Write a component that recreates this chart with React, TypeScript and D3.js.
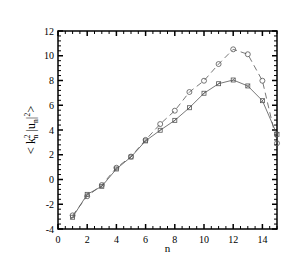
import React from 'react';
import * as d3 from 'd3';

// shell index n
const shells = [1, 2, 3, 4, 5, 6, 7, 8, 9, 10, 11, 12, 13, 14, 15];
// dashed series, open circles
const circleVals = [-2.9, -1.35, -0.45, 0.95, 1.85, 3.2, 4.48, 5.56, 7.07, 7.98, 9.33, 10.52, 10.12, 7.98, 2.93];
// solid series, squares
const squareVals = [-3.05, -1.2, -0.55, 0.85, 1.82, 3.12, 3.98, 4.78, 5.8, 6.97, 7.74, 8.04, 7.56, 6.37, 3.65];

const xTicks = [0, 2, 4, 6, 8, 10, 12, 14];
const yTicks = [-4, -2, 0, 2, 4, 6, 8, 10, 12];

const width = 291;
const height = 259;
const margin = { left: 58, right: 14, top: 31, bottom: 30 };

const App = () => {
  const x = d3.scaleLinear().domain([0, 15]).range([margin.left, width - margin.right]);
  const y = d3.scaleLinear().domain([-4, 12]).range([height - margin.bottom, margin.top]);

  const line = d3.line<number>()
    .x((d, i) => x(shells[i]))
    .y(d => y(d));

  const xMinor = d3.range(0, 15.001, 0.5).filter(v => v % 2 !== 0);
  const yMinor = d3.range(-4, 12.001, 0.4).filter(v => Math.abs(v / 2 - Math.round(v / 2)) > 0.01);

  const x0 = x(0), x1 = x(15), y0 = y(-4), y1 = y(12);
  const grey = '#555';

  return (
    <svg width={width} height={height} style={{ position: 'absolute', left: 0, top: 0 }}
      fontFamily="'Liberation Serif', 'DejaVu Serif', serif">
      <rect width={width} height={height} fill="#fff" />

      {/* ticks */}
      <g stroke="#000" strokeWidth={1}>
        {xTicks.map(t => (
          <g key={'xt' + t}>
            <line x1={x(t)} x2={x(t)} y1={y0} y2={y0 - 5} strokeWidth={1.5} />
            <line x1={x(t)} x2={x(t)} y1={y1} y2={y1 + 5} strokeWidth={1.5} />
          </g>
        ))}
        {xMinor.map(t => (
          <g key={'xm' + t}>
            <line x1={x(t)} x2={x(t)} y1={y0} y2={y0 - 3} />
            <line x1={x(t)} x2={x(t)} y1={y1} y2={y1 + 3} />
          </g>
        ))}
        {yTicks.map(t => (
          <g key={'yt' + t}>
            <line x1={x0} x2={x0 + 5} y1={y(t)} y2={y(t)} strokeWidth={1.5} />
            <line x1={x1} x2={x1 - 5} y1={y(t)} y2={y(t)} strokeWidth={1.5} />
          </g>
        ))}
        {yMinor.map(t => (
          <g key={'ym' + t}>
            <line x1={x0} x2={x0 + 3} y1={y(t)} y2={y(t)} />
            <line x1={x1} x2={x1 - 3} y1={y(t)} y2={y(t)} />
          </g>
        ))}
      </g>
      <rect x={x0} y={y1} width={x1 - x0} height={y0 - y1} fill="none" stroke="#000" strokeWidth={1.5} />

      {/* tick labels */}
      <g fontSize={10} fill="#000">
        {xTicks.map(t => (
          <text key={'xl' + t} x={x(t)} y={y0 + 14} textAnchor="middle">{t}</text>
        ))}
        {yTicks.map(t => (
          <text key={'yl' + t} x={x0 - 4} y={y(t) + 3.5} textAnchor="end">{t}</text>
        ))}
      </g>
      <text x={(x0 + x1) / 2} y={y0 + 23} fontSize={11} textAnchor="middle">n</text>
      <text transform={`translate(35, ${(y0 + y1) / 2}) rotate(-90)`} fontSize={12.5} textAnchor="middle">
        {'< k'}
        <tspan fontSize={7.5} dy={-5} dx={-0.5}>2</tspan>
        <tspan fontSize={7.5} dy={8} dx={-4}>n</tspan>
        <tspan dy={-3}>{' |u'}</tspan>
        <tspan fontSize={7.5} dy={3}>n</tspan>
        <tspan dy={-3}>|</tspan>
        <tspan fontSize={7.5} dy={-5}>2</tspan>
        <tspan dy={5}>{'>'}</tspan>
      </text>

      {/* series */}
      <path d={line(circleVals) || ''} fill="none" stroke={grey} strokeWidth={0.8} strokeDasharray="6,4" />
      <path d={line(squareVals) || ''} fill="none" stroke={grey} strokeWidth={0.8} />
      {circleVals.map((v, i) => (
        <circle key={'c' + i} cx={x(shells[i])} cy={y(v)} r={2.5} fill="none" stroke={grey} strokeWidth={0.8} />
      ))}
      {squareVals.map((v, i) => (
        <g key={'s' + i} stroke={grey} strokeWidth={0.8} fill="none">
          <rect x={x(shells[i]) - 2} y={y(v) - 2} width={4} height={4} />
          <line x1={x(shells[i]) - 2} y1={y(v) + 2} x2={x(shells[i]) + 2} y2={y(v) - 2} />
        </g>
      ))}
    </svg>
  );
};

export default App;
